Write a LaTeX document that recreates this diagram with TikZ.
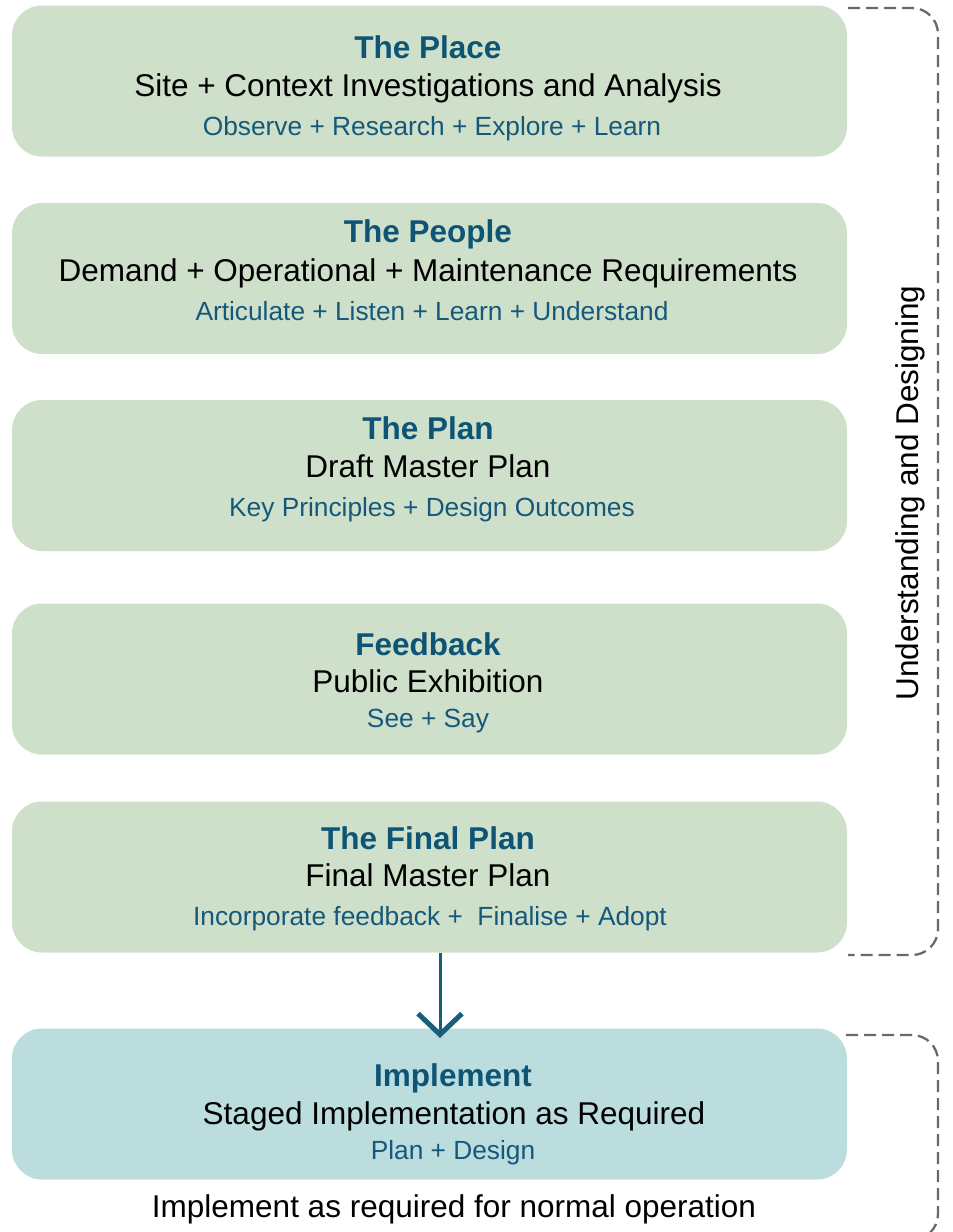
\documentclass[tikz,border=0pt]{standalone}
\usepackage{fontspec}
\setmainfont{Liberation Sans}
\usetikzlibrary{arrows.meta}
\definecolor{stagegreen}{RGB}{207,224,202}
\definecolor{stageblue}{RGB}{187,221,222}
\definecolor{headteal}{RGB}{14,84,117}
\definecolor{subteal}{RGB}{22,88,122}
\definecolor{arrowteal}{RGB}{23,95,122}
\definecolor{bracketgray}{RGB}{105,105,105}

\begin{document}
\begin{tikzpicture}[x=1pt, y=-1pt,
    stagebox/.style={draw=none, rounded corners=30pt, minimum width=835pt,
      minimum height=151pt, inner sep=0pt},
    headline/.style={anchor=base, text=headteal,
      font=\fontsize{31.5}{36}\selectfont\bfseries},
    mainline/.style={anchor=base, font=\fontsize{31.5}{36}\selectfont},
    subline/.style={anchor=base, text=subteal,
      font=\fontsize{26.3}{30}\selectfont},
    bracket/.style={draw=bracketgray, line width=2.3pt,
      dash pattern=on 12pt off 6pt, rounded corners=26pt},
    flowarrow/.style={draw=arrowteal, line width=3pt,
      -{Straight Barb[length=21pt, width=44pt, line width=5pt]}}]
  \useasboundingbox (0,0) rectangle (953,1232);

  % stage boxes
  \node [stagebox, fill=stagegreen] (place)    at (429.5,81)   {};
  \node [stagebox, fill=stagegreen] (people)   at (429.5,278.5) {};
  \node [stagebox, fill=stagegreen] (plan)     at (429.5,475.5) {};
  \node [stagebox, fill=stagegreen] (feedback) at (429.5,679)  {};
  \node [stagebox, fill=stagegreen] (final)    at (429.5,877)  {};
  \node [stagebox, fill=stageblue]  (implement) at (429.5,1104) {};

  % texts
  \node [headline] (placehead) at (428,58)  {The Place};
  \node [mainline] (placemain) at (428,96)  {Site + Context Investigations and Analysis};
  \node [subline]  (placesub)  at (432,135) {Observe + Research + Explore + Learn};

  \node [headline] (peoplehead) at (428,242) {The People};
  \node [mainline] (peoplemain) at (428,281) {Demand + Operational + Maintenance Requirements};
  \node [subline]  (peoplesub)  at (432,320) {Articulate + Listen + Learn + Understand};

  \node [headline] (planhead) at (428,439) {The Plan};
  \node [mainline] (planmain) at (428,477) {Draft Master Plan};
  \node [subline]  (plansub)  at (432,516) {Key Principles + Design Outcomes};

  \node [headline] (feedbackhead) at (428,655) {Feedback};
  \node [mainline] (feedbackmain) at (428,692) {Public Exhibition};
  \node [subline]  (feedbacksub)  at (428,727) {See + Say};

  \node [headline] (finalhead) at (428,849) {The Final Plan};
  \node [mainline] (finalmain) at (428,886) {Final Master Plan};
  \node [subline]  (finalsub)  at (430,925) {Incorporate feedback +\ \ Finalise + Adopt};

  \node [headline] (implementhead) at (453,1086) {Implement};
  \node [mainline] (implementmain) at (454,1124) {Staged Implementation as Required};
  \node [subline]  (implementsub)  at (453,1159) {Plan + Design};
  \node [mainline] (operation) at (454,1217) {Implement as required for normal operation};

  % brackets
  \draw [bracket] (848,8) -- (938,8) -- (938,955) -- (848,955);
  \draw [bracket] (846,1035) -- (938,1035) -- (938,1240) -- (846,1240);
  \node [mainline, rotate=90] (designing) at (918,493) {Understanding and Designing};

  \coordinate (arrowtip) at (440,1038);
  \draw [flowarrow] (final.south -| arrowtip) -- (arrowtip);
\end{tikzpicture}
\end{document}
